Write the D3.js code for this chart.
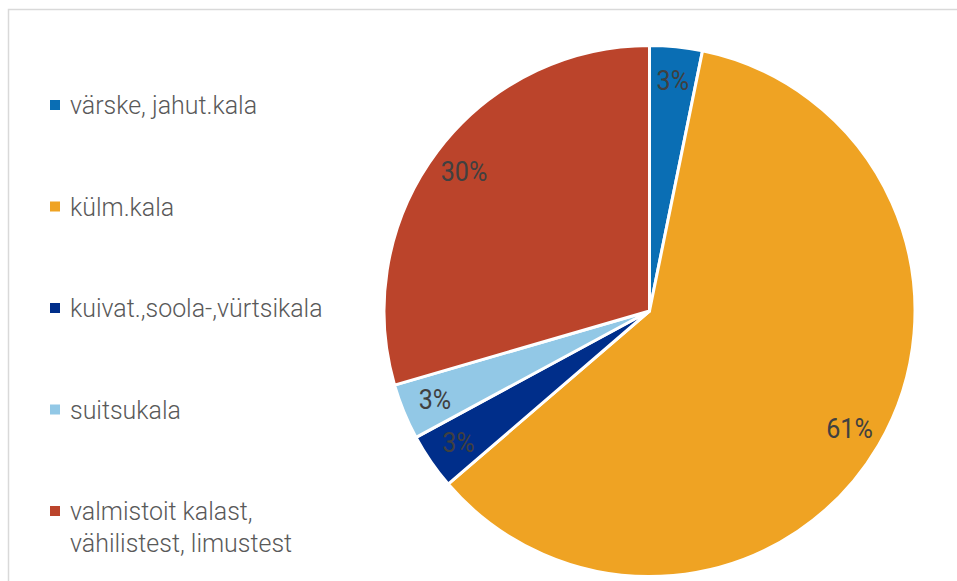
<!DOCTYPE html>
<html>
<head>
<meta charset="utf-8">
<script src="https://cdn.jsdelivr.net/npm/d3@7"></script>
<style>
  body { margin: 0; background: #fff; }
  text { font-family: Roboto, "Liberation Sans Narrow", sans-serif; }
</style>
</head>
<body>
<div id="chart"></div>
<script>
//Chart data.
const categories = ["värske, jahut.kala", "külm.kala", "kuivat.,soola-,vürtsikala", "suitsukala", "valmistoit kalast, vähilistest, limustest"];
const legendLines = [["värske, jahut.kala"], ["külm.kala"], ["kuivat.,soola-,vürtsikala"], ["suitsukala"], ["valmistoit kalast,", "vähilistest, limustest"]];
const values = [3.2, 60.5, 3.4, 3.4, 29.5];
const labels = ["3%", "61%", "3%", "3%", "30%"];
const colors = ["#0A6EB4", "#EFA323", "#002E8A", "#92C8E6", "#BB442B"];

const width = 957;
const height = 581;

const svg = d3.select("#chart")
  .append("svg")
  .attr("width", width)
  .attr("height", height);

//Light frame of the chart area.
svg.append("rect")
  .attr("x", 8.5)
  .attr("y", 9.5)
  .attr("width", width + 20)
  .attr("height", height + 20)
  .attr("fill", "none")
  .attr("stroke", "#d9d9d9")
  .attr("stroke-width", 1.5);

//Pie setup.
const cx = 649.5, cy = 311, radius = 265.5;
const pie = d3.pie().sort(null).value(d => d);
const arcs = pie(values);
const arc = d3.arc().innerRadius(0).outerRadius(radius);
const labelArc = d3.arc().innerRadius(232).outerRadius(232);

const g = svg.append("g").attr("transform", `translate(${cx},${cy})`);

g.selectAll("path")
  .data(arcs)
  .enter()
  .append("path")
  .attr("d", arc)
  .attr("fill", (d, i) => colors[i])
  .attr("stroke", "#fff")
  .attr("stroke-width", 3)
  .attr("stroke-linejoin", "round");

g.selectAll("text.pct")
  .data(arcs)
  .enter()
  .append("text")
  .attr("class", "pct")
  .attr("transform", d => `translate(${labelArc.centroid(d)}) scale(0.93,1)`)
  .attr("text-anchor", "middle")
  .attr("dy", "0.36em")
  .attr("font-size", 27)
  .attr("fill", "#404040")
  .text((d, i) => labels[i]);

//Legend on the left.
const legendY = d3.scalePoint()
  .domain(categories)
  .range([105, 511]);

const legend = svg.append("g")
  .selectAll("g")
  .data(categories)
  .enter()
  .append("g")
  .attr("transform", d => `translate(50,${legendY(d)})`);

legend.append("rect")
  .attr("x", 0)
  .attr("y", -5)
  .attr("width", 10)
  .attr("height", 10)
  .attr("fill", (d, i) => colors[i]);

legend.append("text")
  .attr("transform", "translate(20,0) scale(0.96,1)")
  .attr("font-size", 26)
  .attr("font-weight", 300)
  .attr("fill", "#595959")
  .selectAll("tspan")
  .data((d, i) => legendLines[i])
  .enter()
  .append("tspan")
  .attr("x", 0)
  .attr("y", (d, j) => j * 32)
  .attr("dy", "0.36em")
  .text(d => d);
</script>
</body>
</html>
